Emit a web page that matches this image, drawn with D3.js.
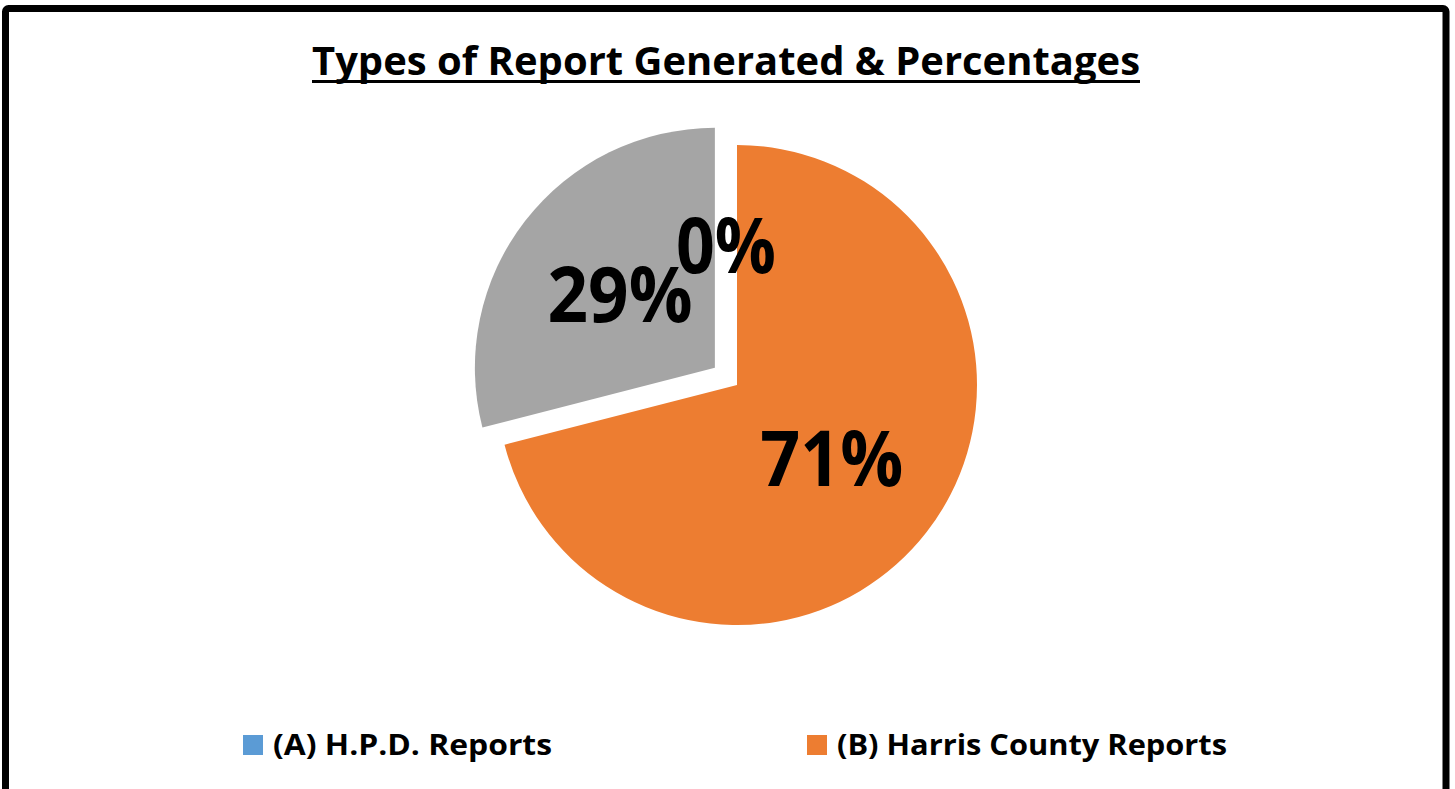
<!DOCTYPE html>
<html>
<head>
<meta charset="utf-8">
<script src="https://cdn.jsdelivr.net/npm/d3@7"></script>
<style>
  html, body { margin: 0; padding: 0; background: #fff; }
  svg { display: block; font-family: "Open Sans", "Noto Sans", sans-serif; }
</style>
</head>
<body>
<div id="chart"></div>
<script>
// data
const categories = ['(A) H.P.D. Reports', '(B) Harris County Reports', '(C) Other Reports'];
const values = [0, 71, 29];
const colors = ['#5B9BD5', '#ED7D31', '#A5A5A5'];
const exploded = [false, false, true];
const legendShown = [true, true, false];

const W = 1455, H = 789;
const cx = 737, cy = 385, radius = 240;
const explodeBy = 28;

const svg = d3.select('#chart')
  .append('svg')
  .attr('width', W)
  .attr('height', H);

// frame
svg.append('rect')
  .attr('x', 5.5)
  .attr('y', 8.5)
  .attr('width', 1440.5)
  .attr('height', H + 20)
  .attr('rx', 3)
  .attr('fill', '#fff')
  .attr('stroke', '#000')
  .attr('stroke-width', 7);

// title
const title = svg.append('text')
  .attr('x', 312)
  .attr('y', 75)
  .attr('font-size', 39)
  .attr('font-weight', 700)
  .attr('textLength', 828)
  .attr('lengthAdjust', 'spacingAndGlyphs')
  .text('Types of Report Generated & Percentages');

svg.append('line')
  .attr('x1', 312)
  .attr('x2', 1140)
  .attr('y1', 81.5)
  .attr('y2', 81.5)
  .attr('stroke', '#000')
  .attr('stroke-width', 3);

const data = categories.map((c, i) => ({
  name: c, value: values[i], color: colors[i], exploded: exploded[i]
}));

const pie = d3.pie()
  .value(d => d.value)
  .sort(null);

const arc = d3.arc().innerRadius(0).outerRadius(radius);
const arcs = pie(data);

const offset = d => {
  if (!d.data.exploded) return [0, 0];
  const a = (d.startAngle + d.endAngle) / 2;
  return [Math.sin(a) * explodeBy, -Math.cos(a) * explodeBy];
};

const g = svg.append('g')
  .attr('transform', `translate(${cx},${cy})`);

g.selectAll('path.slice')
  .data(arcs)
  .enter()
  .append('path')
  .attr('class', 'slice')
  .attr('d', arc)
  .attr('fill', d => d.data.color)
  .attr('transform', d => `translate(${offset(d)})`);

// percentage labels
const labelSize = { 0: 100, 29: 145, 71: 143 };
g.selectAll('text.lbl')
  .data(arcs)
  .enter()
  .append('text')
  .attr('class', 'lbl')
  .attr('transform', d => {
    const a = (d.startAngle + d.endAngle) / 2;
    const r = d.data.value === 0 ? 140 : 120;
    const [ox, oy] = offset(d);
    const nudge = d.data.value === 0 ? -11 : 0;
    return `translate(${Math.sin(a) * r + ox + nudge},${-Math.cos(a) * r + oy})`;
  })
  .attr('text-anchor', 'middle')
  .attr('dy', '0.36em')
  .attr('font-size', 77)
  .attr('font-weight', 700)
  .attr('fill', '#000')
  .attr('textLength', d => labelSize[d.data.value])
  .attr('lengthAdjust', 'spacingAndGlyphs')
  .text(d => d.data.value + '%');

// legend
const legendData = data.filter((d, i) => legendShown[i]);
const legendWidths = [279, 390];
const legend = svg.append('g')
  .attr('transform', 'translate(243,735)');

const item = legend.selectAll('g.item')
  .data(legendData)
  .enter()
  .append('g')
  .attr('class', 'item')
  .attr('transform', (d, i) => `translate(${i * 564},0)`);

item.append('rect')
  .attr('width', 20)
  .attr('height', 20)
  .attr('fill', d => d.color);

item.append('text')
  .attr('x', 30)
  .attr('y', 20)
  .attr('font-size', 28)
  .attr('font-weight', 700)
  .attr('textLength', (d, i) => legendWidths[i])
  .attr('lengthAdjust', 'spacingAndGlyphs')
  .text(d => d.name);
</script>
</body>
</html>
